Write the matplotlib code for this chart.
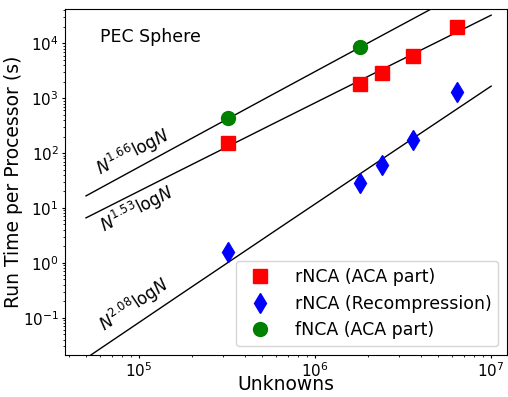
import matplotlib
matplotlib.use("Agg")
import matplotlib.pyplot as plt
import numpy as np

# measured points
n_pts = [3.2e5, 1.8e6, 2.4e6, 3.6e6, 6.4e6]
rnca_aca = [150, 1780, 2900, 6000, 19500]
rnca_recomp = [1.55, 28, 60, 175, 1290]
n_fnca = [3.2e5, 1.8e6]
fnca_aca = [430, 8400]

# reference curves c * N^p * lnN, anchored at (N, T)
fit_exps = [1.66, 1.53, 2.08]
fit_anchor_n = [5e4, 5e4, 1e7]
fit_anchor_t = [16.6, 6.6, 1660]
fit_range = [5e4, 1e7]

fig = plt.figure(figsize=(5.08, 3.97), dpi=100)
ax = fig.add_axes([0.128, 0.106, 0.870, 0.871])

nn = np.logspace(np.log10(fit_range[0]), np.log10(fit_range[1]), 200)
for p, n0, t0 in zip(fit_exps, fit_anchor_n, fit_anchor_t):
    c = t0 / (n0 ** p * np.log(n0))
    ax.plot(nn, c * nn ** p * np.log(nn), color="black", lw=1)

ax.plot(n_pts, rnca_aca, "s", color="red", ms=10, ls="none", label="rNCA (ACA part)")
ax.plot(n_pts, rnca_recomp, "d", color="blue", ms=10, ls="none", label="rNCA (Recompression)")
ax.plot(n_fnca, fnca_aca, "o", color="green", ms=10, ls="none", label="fNCA (ACA part)")

ax.set_xscale("log")
ax.set_yscale("log")
ax.set_xlim(3.8e4, 1.23e7)
ax.set_ylim(0.021, 4.2e4)
ax.tick_params(which="major", labelsize=11, length=2.5, pad=2)
ax.tick_params(which="minor", length=1.5)
ax.set_xlabel("Unknowns", fontsize=13.5)
ax.set_ylabel("Run Time per Processor (s)", fontsize=13.5)
ax.xaxis.set_label_coords(0.5, -0.058)
ax.yaxis.set_label_coords(-0.095, 0.5)

ax.text(0.079, 0.92, "PEC Sphere", transform=ax.transAxes, fontsize=12.5, va="center")
ax.text(0.154, 0.585, r"$N^{1.66}$log$N$", transform=ax.transAxes, fontsize=12,
        rotation=27, ha="center", va="center")
ax.text(0.163, 0.42, r"$N^{1.53}$log$N$", transform=ax.transAxes, fontsize=12,
        rotation=27, ha="center", va="center")
ax.text(0.157, 0.145, r"$N^{2.08}$log$N$", transform=ax.transAxes, fontsize=12,
        rotation=34, ha="center", va="center")

ax.legend(loc="lower right", fontsize=12.5, handletextpad=1.0)

fig.savefig("out.png")
